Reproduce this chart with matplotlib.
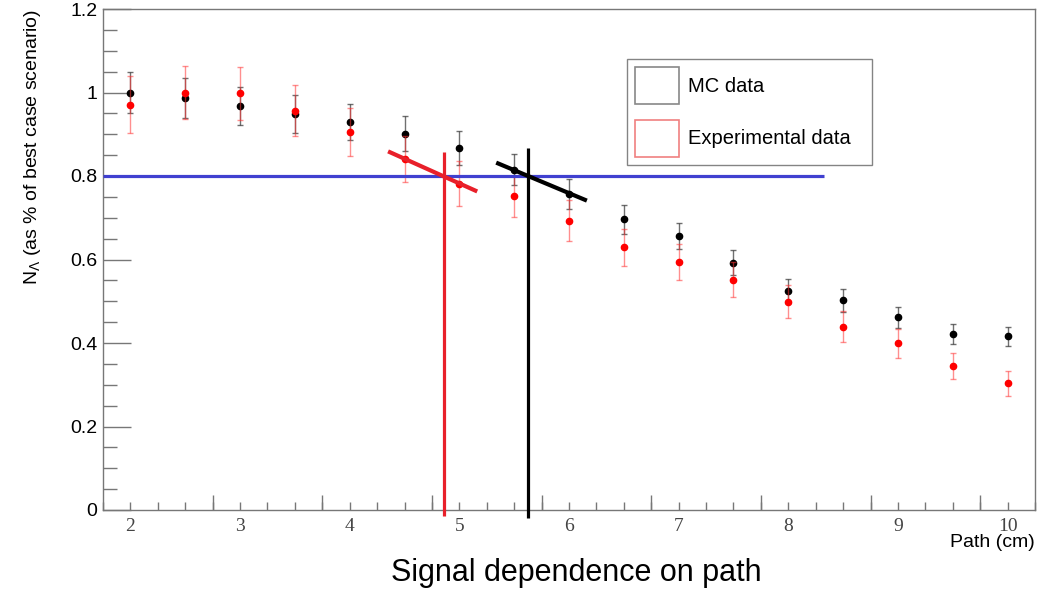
import numpy as np
import matplotlib
matplotlib.use("Agg")
import matplotlib.pyplot as plt
from matplotlib.patches import Patch
from matplotlib.ticker import MultipleLocator, FixedLocator, NullLocator

# ---- data ----
path = [2, 2.5, 3, 3.5, 4, 4.5, 5, 5.5, 6, 6.5, 7, 7.5, 8, 8.5, 9, 9.5, 10]
mc = [1.000, 0.986, 0.968, 0.949, 0.929, 0.901, 0.867, 0.815, 0.758, 0.696,
      0.657, 0.592, 0.525, 0.502, 0.462, 0.422, 0.416]
mc_err = [0.049, 0.048, 0.046, 0.045, 0.043, 0.042, 0.040, 0.037, 0.036, 0.035,
          0.031, 0.030, 0.028, 0.027, 0.025, 0.024, 0.023]
exp = [0.971, 1.000, 0.998, 0.956, 0.906, 0.841, 0.782, 0.751, 0.693, 0.629,
       0.593, 0.552, 0.499, 0.439, 0.399, 0.345, 0.303]
exp_err = [0.068, 0.064, 0.064, 0.061, 0.058, 0.056, 0.053, 0.050, 0.049, 0.044,
           0.043, 0.041, 0.039, 0.037, 0.034, 0.032, 0.031]

threshold = 0.8
threshold_x = [1.75, 8.33]
exp_cross_x = 4.86
exp_cross_y = [-0.015, 0.858]
mc_cross_x = 5.625
mc_cross_y = [-0.02, 0.866]
exp_slope_x = [4.35, 5.163]
exp_slope_y = [0.859, 0.763]
mc_slope_x = [5.336, 6.163]
mc_slope_y = [0.832, 0.741]

x_ticks = [2, 3, 4, 5, 6, 7, 8, 9, 10]
y_ticks = [0, 0.2, 0.4, 0.6, 0.8, 1.0, 1.2]
y_ticklabels = ["0", "0.2", "0.4", "0.6", "0.8", "1", "1.2"]

plt.rcParams['font.family'] = ['Liberation Sans', 'DejaVu Sans']
plt.rcParams['mathtext.fontset'] = 'custom'
plt.rcParams['mathtext.rm'] = 'Liberation Sans'
plt.rcParams['mathtext.it'] = 'Liberation Sans'

fig = plt.figure(figsize=(10.5, 5.92), dpi=100)
ax = fig.add_axes([103/1050, 1 - 510/592, 932/1050, 501/592])

ax.set_xlim(1.75, 10.25)
ax.set_ylim(0, 1.2)

# data points
ax.errorbar(path, mc, yerr=mc_err, fmt='o', color='black', markersize=4.5,
            ecolor=(0.2, 0.2, 0.2, 0.7), elinewidth=1.0, capsize=2, capthick=1.0,
            zorder=3)
ax.errorbar(path, exp, yerr=exp_err, fmt='o', color='red', markersize=4.5,
            ecolor=(1.0, 0.2, 0.2, 0.55), elinewidth=1.0, capsize=2, capthick=1.0,
            zorder=4)

# reference lines
ax.hlines(threshold, threshold_x[0], threshold_x[1], color='#4040d0', lw=2.3, zorder=5)
ax.vlines(exp_cross_x, exp_cross_y[0], exp_cross_y[1], color='#e8202a', lw=2.3,
          zorder=6, clip_on=False)
ax.vlines(mc_cross_x, mc_cross_y[0], mc_cross_y[1], color='black', lw=2.3,
          zorder=6, clip_on=False)
ax.plot(exp_slope_x, exp_slope_y, color='#e8202a', lw=3.0, zorder=6,
        solid_capstyle='butt')
ax.plot(mc_slope_x, mc_slope_y, color='black', lw=3.0, zorder=6,
        solid_capstyle='butt')

# spines
for s in ax.spines.values():
    s.set_color('#777777')
    s.set_linewidth(1.0)

# y ticks
ax.yaxis.set_major_locator(FixedLocator(y_ticks))
ax.set_yticklabels(y_ticklabels)
ax.yaxis.set_minor_locator(MultipleLocator(0.05))
ax.tick_params(axis='y', which='major', direction='in', length=20, width=1,
               color='#777777', labelsize=14, pad=4, right=False)
ax.tick_params(axis='y', which='minor', direction='in', length=10, width=1,
               color='#777777', right=False)

# x ticks
ax.xaxis.set_major_locator(FixedLocator(x_ticks))
ax.xaxis.set_minor_locator(MultipleLocator(0.25))
ax.tick_params(axis='x', which='major', direction='in', length=6, width=1,
               color='#777777', labelsize=14, pad=6, labelcolor='#444444', top=False)
ax.tick_params(axis='x', which='minor', direction='in', length=6, width=1,
               color='#777777', top=False)
for lab in ax.get_xticklabels():
    lab.set_family('Liberation Serif')

sec = ax.secondary_xaxis('bottom')
sec.set_xticks(np.arange(2.75, 10.25, 1.0))
sec.xaxis.set_minor_locator(NullLocator())
sec.tick_params(axis='x', direction='in', length=11, width=1, color='#777777',
                labelbottom=False)
sec.spines['bottom'].set_visible(False)

# labels
ax.set_ylabel(r'N$_{\Lambda}$ (as % of best case scenario)', fontsize=14, loc='top')
ax.yaxis.set_label_coords(-0.0644, 1.0)
ax.set_xlabel('Path (cm)', fontsize=14, loc='right')
ax.xaxis.set_label_coords(1.0, -0.048)

fig.text(576/1050, 11/592, 'Signal dependence on path', fontsize=22,
         ha='center', va='baseline')

# legend
handles = [Patch(facecolor='none', edgecolor='#888888', linewidth=1.2, label='MC data'),
           Patch(facecolor='none', edgecolor='#f08080', linewidth=1.2, label='Experimental data')]
leg = ax.legend(handles=handles, loc='upper left',
                bbox_to_anchor=((627.3-103)/932, (510-59.3)/501 - 0.002, 245/932, 0.002),
                mode='expand', borderaxespad=0, fontsize=14.5, frameon=True,
                fancybox=False, handlelength=2.19, handleheight=2.49,
                handletextpad=0.46, labelspacing=0.75, borderpad=0.38)
leg.get_frame().set_edgecolor('#666666')
leg.get_frame().set_linewidth(1.0)
leg.set_zorder(10)

fig.savefig('out.png', dpi=100)
